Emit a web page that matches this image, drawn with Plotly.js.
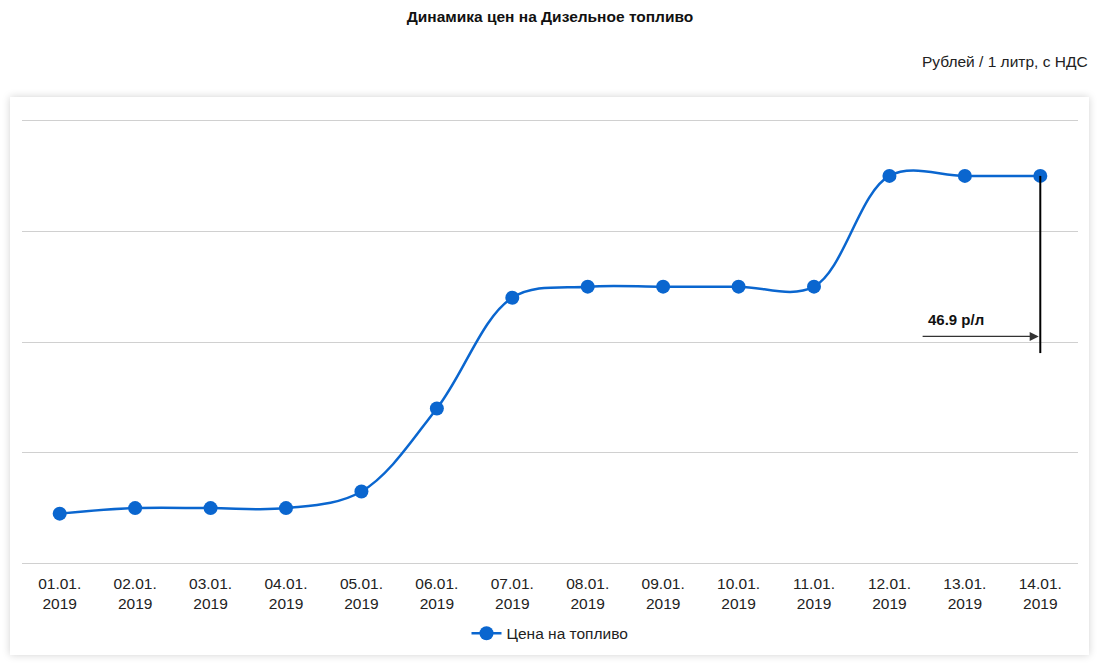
<!DOCTYPE html>
<html>
<head>
<meta charset="utf-8">
<script src="https://cdn.plot.ly/plotly-3.0.1.min.js"></script>
<style>
  html, body { margin: 0; padding: 0; background: #fff; }
  #panel { position: absolute; left: 10px; top: 97px; width: 1079px; height: 558px; background: #fff; box-shadow: 0 0 8px rgba(0,0,0,0.18); }
  #chart { position: absolute; left: 0; top: 0; width: 1100px; height: 665px; }
</style>
</head>
<body>
<div id="panel"></div>
<div id="chart"></div>
<script>
const categories = ["01.01.<br>2019","02.01.<br>2019","03.01.<br>2019","04.01.<br>2019","05.01.<br>2019","06.01.<br>2019","07.01.<br>2019","08.01.<br>2019","09.01.<br>2019","10.01.<br>2019","11.01.<br>2019","12.01.<br>2019","13.01.<br>2019","14.01.<br>2019"];
const prices = [46.29, 46.30, 46.30, 46.30, 46.33, 46.48, 46.68, 46.70, 46.70, 46.70, 46.70, 46.90, 46.90, 46.90];
const seriesName = "Цена на топливо";
const lastPriceLabel = "46.9 р/л";

const trace = {
  x: categories.map((_, i) => i),
  y: prices,
  type: 'scatter',
  mode: 'lines+markers',
  name: seriesName,
  line: { color: '#0a66cf', width: 2.5, shape: 'spline', smoothing: 1 },
  marker: { color: '#0a66cf', size: 14 },
  hoverinfo: 'y'
};

const lastIdx = prices.length - 1;

const layout = {
  width: 1100, height: 665,
  paper_bgcolor: 'rgba(0,0,0,0)',
  plot_bgcolor: 'rgba(0,0,0,0)',
  margin: { l: 22, r: 22, t: 114.5, b: 95.5 },
  font: { family: 'Liberation Sans, Arial, sans-serif', size: 15.5, color: '#222' },
  title: { text: '<b>Динамика цен на Дизельное топливо</b>', x: 0.5, xref: 'paper', y: 0.975, yref: 'container', yanchor: 'middle', font: { size: 15.5, color: '#111' } },
  showlegend: true,
  legend: { orientation: 'h', x: 0.5, xanchor: 'center', y: -0.105, yanchor: 'top', font: { size: 15.5, color: '#222' } },
  xaxis: {
    type: 'linear', range: [-0.5, lastIdx + 0.5],
    tickmode: 'array', tickvals: categories.map((_, i) => i), ticktext: categories,
    showgrid: false, zeroline: false, showline: false, ticks: '',
    ticklabelstandoff: 3,
    tickfont: { size: 15.5, color: '#222' }, fixedrange: true
  },
  yaxis: {
    range: [46.19, 47.01], dtick: 0.2, tick0: 46.2,
    showticklabels: false, showgrid: true, gridcolor: '#d0d0d0', gridwidth: 1,
    zeroline: false, showline: false, ticks: '', fixedrange: true
  },
  shapes: [
    { type: 'line', xref: 'x', yref: 'y', x0: lastIdx, x1: lastIdx, y0: prices[lastIdx], y1: 46.58, line: { color: '#000', width: 2 } }
  ],
  annotations: [
    { xref: 'paper', yref: 'paper', x: 1.011, y: 1.117, xanchor: 'right', yanchor: 'middle', text: 'Рублей / 1 литр, с НДС', showarrow: false, font: { size: 15.5, color: '#222' } },
    { xref: 'x', yref: 'y', x: lastIdx - 0.02, y: 46.61, axref: 'x', ayref: 'y', ax: 11.42, ay: 46.61, text: '', showarrow: true, arrowhead: 2, arrowsize: 1.4, arrowwidth: 1.3, arrowcolor: '#333' },
    { xref: 'x', yref: 'y', x: 11.88, y: 46.64, text: '<b>' + lastPriceLabel + '</b>', showarrow: false, font: { size: 15, color: '#111' } }
  ]
};

Plotly.newPlot('chart', [trace], layout, { displayModeBar: false, staticPlot: true });
</script>
</body>
</html>
